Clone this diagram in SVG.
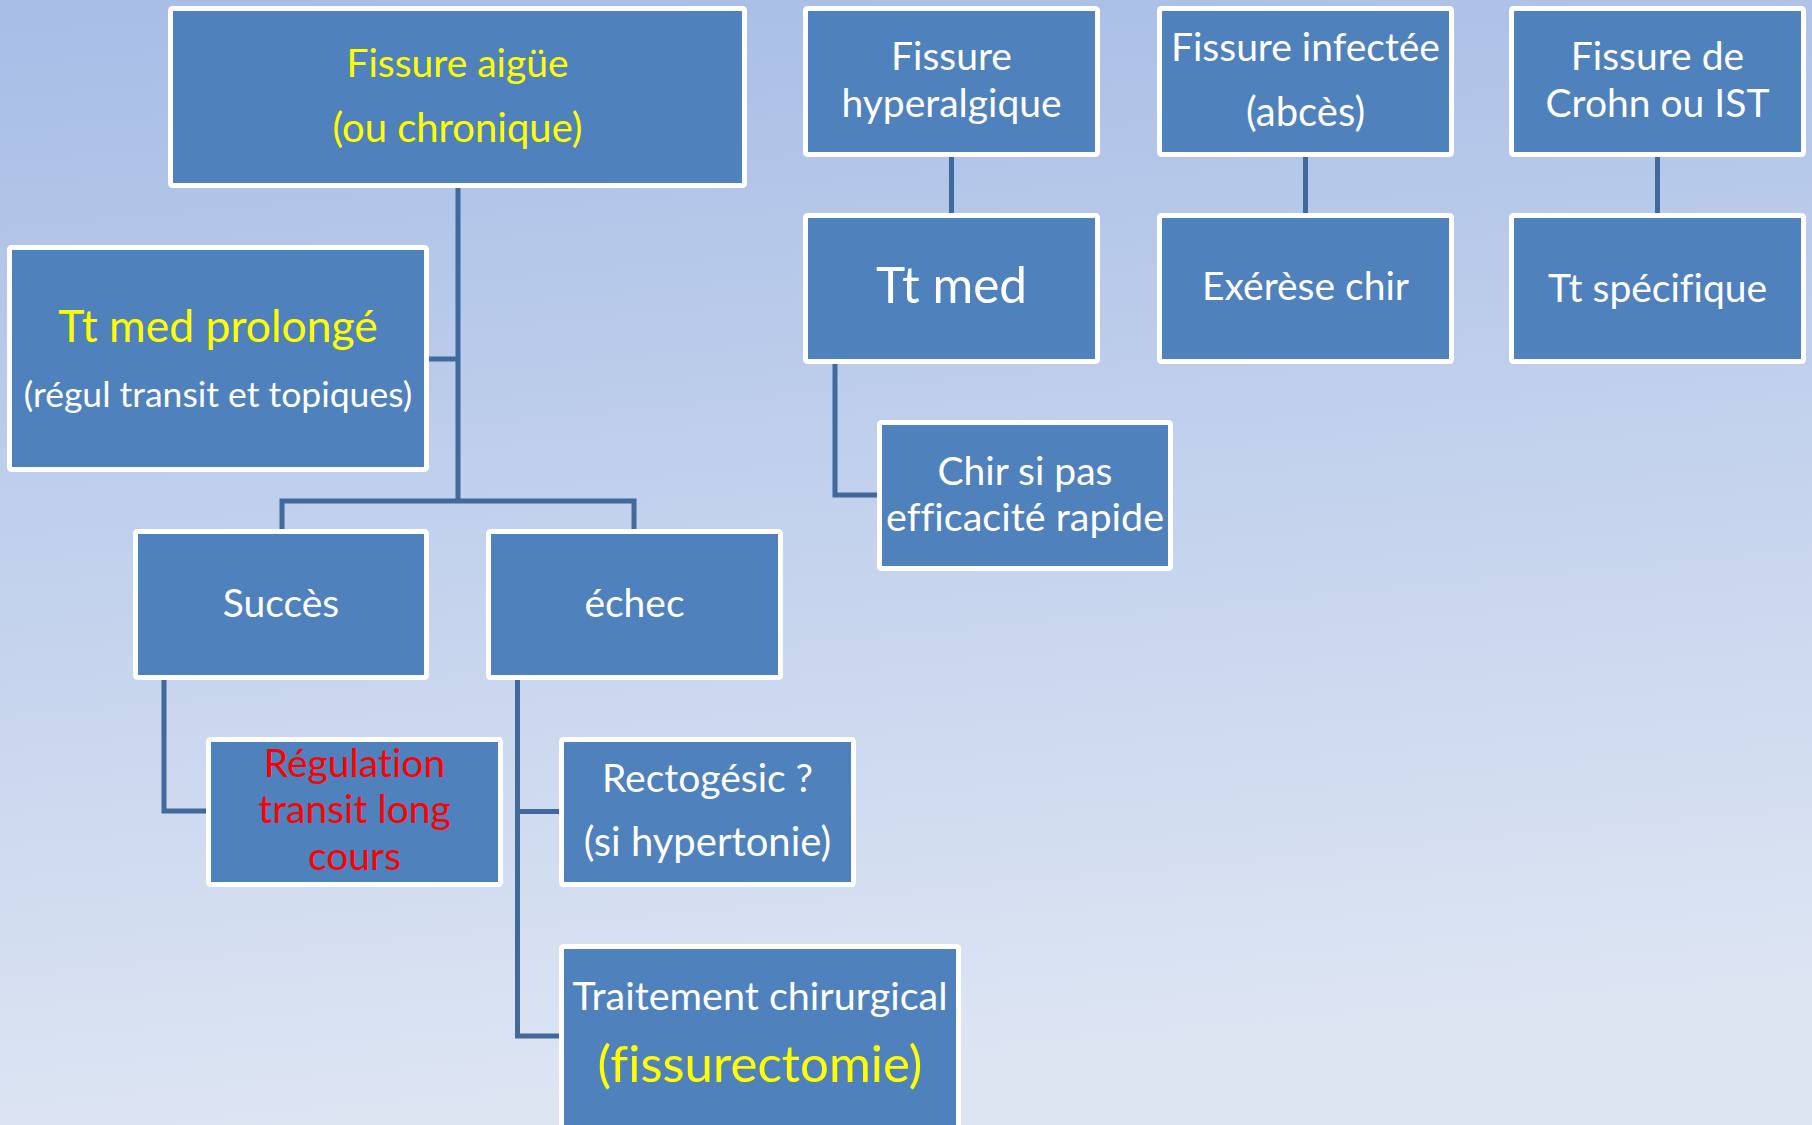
<svg xmlns="http://www.w3.org/2000/svg" width="1812" height="1125" viewBox="0 0 1812 1125">
<defs>
<linearGradient id="bg" x1="0" y1="0" x2="0.15" y2="1">
<stop offset="0" stop-color="#A7BDE6"/>
<stop offset="1" stop-color="#DDE5F3"/>
</linearGradient>
<style>
.box{fill:#4F81BD;stroke:#FFFFFF;stroke-width:5}
.t{font-family:Lato,"Open Sans","Liberation Sans",sans-serif;font-size:39px;text-anchor:middle;fill:#FFFFFF;font-variant-ligatures:none}
.y{fill:#FFFF00}
.r{fill:#FF0000}
.big{font-size:49.5px}
.p{font-size:40px}
.conn{fill:none;stroke:#41699C;stroke-width:5;stroke-linejoin:miter}
</style>
</defs>
<rect x="0" y="0" width="1812" height="1125" fill="url(#bg)"/>
<g id="connectors">
<path class="conn" d="M458 188 V501"/>
<path class="conn" d="M429 359 H458"/>
<path class="conn" d="M282 529 V501 H634 V529"/>
<path class="conn" d="M164 680 V811 H206"/>
<path class="conn" d="M517.5 680 V1036 H559"/>
<path class="conn" d="M517.5 811.5 H559"/>
<path class="conn" d="M951.5 157 V213"/>
<path class="conn" d="M1305.5 157 V213"/>
<path class="conn" d="M1657.5 157 V213"/>
<path class="conn" d="M835 364 V495 H877"/>
</g>
<g id="n-aigue">
<rect class="box" x="170.5" y="8.5" width="574" height="177" rx="2"/>
<text class="t y" x="457.5" y="77">Fissure aigüe</text>
<text class="t y p" x="457.5" y="142">(ou chronique)</text>
</g>
<g id="n-hyper">
<rect class="box" x="805.5" y="8.5" width="292" height="146" rx="2"/>
<text class="t" x="951.5" y="70">Fissure</text>
<text class="t" x="951.5" y="117">hyperalgique</text>
</g>
<g id="n-infectee">
<rect class="box" x="1159.5" y="8.5" width="292" height="146" rx="2"/>
<text class="t" x="1305.5" y="61">Fissure infectée</text>
<text class="t p" x="1305.5" y="126">(abcès)</text>
</g>
<g id="n-crohn">
<rect class="box" x="1511.5" y="8.5" width="292" height="146" rx="2"/>
<text class="t" x="1657.5" y="70">Fissure de</text>
<text class="t" x="1657.5" y="117">Crohn ou IST</text>
</g>
<g id="n-ttmed">
<rect class="box" x="805.5" y="215.5" width="292" height="146" rx="2"/>
<text class="t big" x="951.5" y="303">Tt med</text>
</g>
<g id="n-exerese">
<rect class="box" x="1159.5" y="215.5" width="292" height="146" rx="2"/>
<text class="t" x="1305.5" y="300">Exérèse chir</text>
</g>
<g id="n-specifique">
<rect class="box" x="1511.5" y="215.5" width="292" height="146" rx="2"/>
<text class="t" x="1657.5" y="301.5">Tt spécifique</text>
</g>
<g id="n-prolonge">
<rect class="box" x="9.5" y="247.5" width="417" height="222" rx="2"/>
<text class="t y" x="218" y="342" style="font-size:44.5px">Tt med prolongé</text>
<text class="t" x="218" y="407" style="font-size:35.5px">(régul transit et topiques)</text>
</g>
<g id="n-chir">
<rect class="box" x="879.5" y="422.5" width="291" height="146" rx="2"/>
<text class="t" x="1025" y="485">Chir si pas</text>
<text class="t" x="1025" y="531" style="font-size:39.5px">efficacité rapide</text>
</g>
<g id="n-succes">
<rect class="box" x="135.5" y="531.5" width="291" height="146" rx="2"/>
<text class="t" x="281" y="617">Succès</text>
</g>
<g id="n-echec">
<rect class="box" x="488.5" y="531.5" width="292" height="146" rx="2"/>
<text class="t" x="634.5" y="617">échec</text>
</g>
<g id="n-regulation">
<rect class="box" x="208.5" y="739.5" width="292" height="145" rx="2"/>
<text class="t r" x="354.5" y="777">Régulation</text>
<text class="t r" x="354.5" y="823">transit long</text>
<text class="t r" x="354.5" y="870">cours</text>
</g>
<g id="n-rectogesic">
<rect class="box" x="561.5" y="739.5" width="292" height="145" rx="2"/>
<text class="t" x="707.5" y="792">Rectogésic ?</text>
<text class="t p" x="707.5" y="856">(si hypertonie)</text>
</g>
<g id="n-traitement">
<rect class="box" x="561.5" y="946.5" width="397" height="195" rx="2"/>
<text class="t" x="760" y="1010" style="font-size:39.5px">Traitement chirurgical</text>
<text class="t y" x="760" y="1082" style="font-size:51px">(fissurectomie)</text>
</g>
</svg>
